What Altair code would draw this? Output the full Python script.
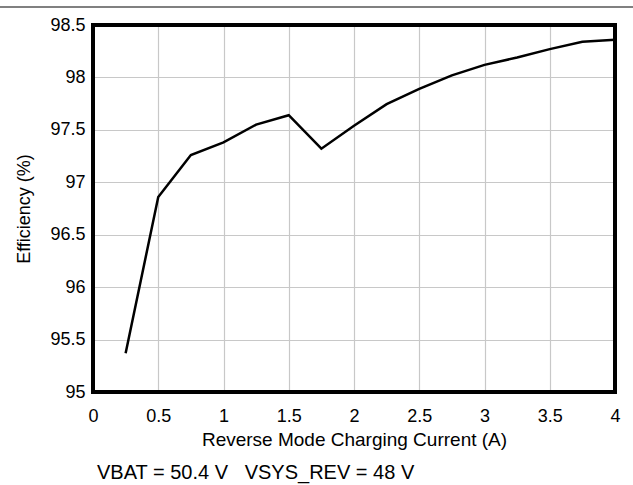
import altair as alt
import pandas as pd

current = [0.25, 0.5, 0.75, 1.0, 1.25, 1.5, 1.75, 2.0, 2.25, 2.5, 2.75, 3.0, 3.25, 3.5, 3.75, 4.0]
efficiency = [95.37, 96.86, 97.26, 97.38, 97.55, 97.64, 97.32, 97.54, 97.745, 97.89, 98.02, 98.12, 98.19, 98.27, 98.34, 98.36]
x_ticks = [0, 0.5, 1, 1.5, 2, 2.5, 3, 3.5, 4]
y_ticks = [95, 95.5, 96, 96.5, 97, 97.5, 98, 98.5]

df = pd.DataFrame({"current": current, "eff": efficiency})

FONT = "Liberation Sans"
W, H = 522, 367

line = alt.Chart(df).mark_line(color="black", strokeWidth=2.5).encode(
    x=alt.X("current:Q", scale=alt.Scale(domain=[0, 4], nice=False),
            axis=alt.Axis(values=x_ticks, title="Reverse Mode Charging Current (A)",
                          format="~g", domain=False, ticks=False, labelPadding=15,
                          labelFontSize=18, titleFontSize=19, titlePadding=5,
                          labelColor="black", titleColor="black", titleFontWeight="normal",
                          gridColor="#c8c8c8", gridWidth=1.2, labelFont=FONT, titleFont=FONT,
                          labelFlush=False)),
    y=alt.Y("eff:Q", scale=alt.Scale(domain=[95, 98.5], nice=False, zero=False),
            axis=alt.Axis(values=y_ticks, title="Efficiency (%)", format="~g",
                          domain=False, ticks=False, labelPadding=8,
                          labelFontSize=18, titleFontSize=18, titlePadding=16,
                          labelColor="black", titleColor="black", titleFontWeight="normal",
                          gridColor="#c8c8c8", gridWidth=1.2, labelFont=FONT, titleFont=FONT,
                          labelFlush=False)),
)

frame = alt.Chart(df).mark_rect(fill=None, stroke="black", strokeWidth=3.5, clip=False).encode(
    x=alt.value(0), x2=alt.value(W), y=alt.value(0), y2=alt.value(H)
)

top_rule = alt.Chart(df).mark_rule(color="#808080", strokeWidth=2, clip=False).encode(
    x=alt.value(-93), x2=alt.value(540), y=alt.value(-18)
)

chart = alt.layer(line, frame, top_rule).properties(
    width=W, height=H,
    background="white",
    title=alt.TitleParams("VBAT = 50.4 V\u00a0\u00a0\u00a0VSYS_REV = 48 V", orient="bottom", anchor="start",
                          frame="group", dx=4, offset=14, fontSize=20, font=FONT,
                          fontWeight="normal", color="black"),
    padding={"left": 93, "top": 25, "right": 18, "bottom": 93},
    autosize=alt.AutoSizeParams(type="none"),
).configure_view(stroke=None)

chart.save("out.html", embed_options={"renderer": "svg", "actions": False})
